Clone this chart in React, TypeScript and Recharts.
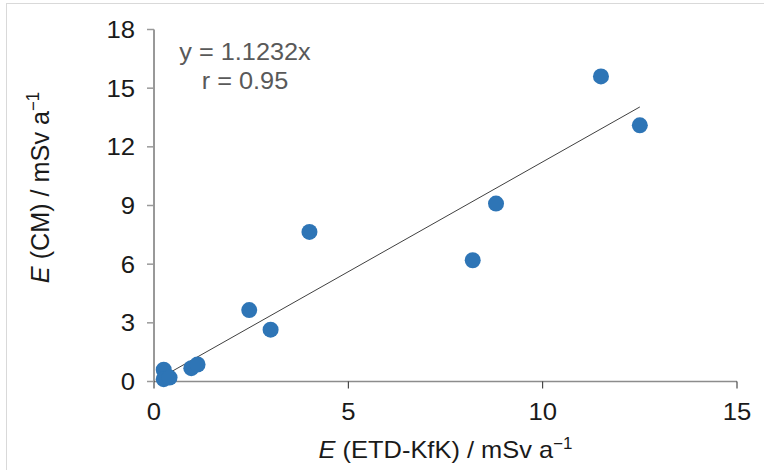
import React from 'react';
import { ScatterChart, Scatter, XAxis, YAxis, ReferenceLine, Label } from 'recharts';

// E (ETD-KfK) values, mSv/a
const etdKfk = [0.25, 0.25, 0.4, 0.96, 1.12, 2.45, 3.0, 4.0, 8.2, 8.8, 11.5, 12.5];
// E (CM) values, mSv/a
const cm = [0.6, 0.12, 0.2, 0.68, 0.87, 3.65, 2.65, 7.65, 6.2, 9.1, 15.6, 13.1];

const xTicks = [0, 5, 10, 15];
const yTicks = [0, 3, 6, 9, 12, 15, 18];

const slope = 1.1232;
const rValue = 0.95;
const fitStart = 0.24;
const fitEnd = 12.5;

const points = etdKfk.map((x, i) => ({ x, y: cm[i] }));

const FONT = '"Liberation Sans", Arial, sans-serif';
const SX = 1.07;
const FS = 24;

const YTick = (p: any) => (
  <text
    transform={`translate(${p.x},${p.y}) scale(${SX},1)`}
    textAnchor="end"
    dy={8.6}
    fontSize={FS}
    fontFamily={FONT}
    fill="#1a1a1a"
  >
    {p.payload.value}
  </text>
);

const XTick = (p: any) => (
  <text
    transform={`translate(${p.x},${p.y}) scale(${SX},1)`}
    textAnchor="middle"
    dy={31.5}
    fontSize={FS}
    fontFamily={FONT}
    fill="#1a1a1a"
  >
    {p.payload.value}
  </text>
);

const XTitle = (props: any) => {
  const vb = props.viewBox || { x: 154, y: 381.5, width: 583 };
  const cx = vb.x + vb.width / 2;
  const by = vb.y + 76;
  return (
    <text
      transform={`translate(${cx},${by}) scale(1.06,1)`}
      textAnchor="middle"
      fontSize={FS}
      fontFamily={FONT}
      fill="#1a1a1a"
    >
      <tspan fontStyle="italic">E</tspan> (ETD-KfK) / mSv a
      <tspan fontSize={16} dy={-9}>−1</tspan>
    </text>
  );
};

const YTitle = () => (
  <text
    transform={`translate(49,187.5) rotate(-90) scale(1.05,1.1)`}
    textAnchor="middle"
    fontSize={FS}
    fontFamily={FONT}
    fill="#1a1a1a"
  >
    <tspan fontStyle="italic">E</tspan> (CM) / mSv a
    <tspan fontSize={16} dy={-9}>−1</tspan>
  </text>
);

export default function App() {
  return (
    <div style={{ position: 'fixed', left: 0, top: 0, width: 764, height: 470, background: '#fff', overflow: 'hidden' }}>
      <div
        style={{
          position: 'absolute',
          left: 6,
          top: 3,
          width: 800,
          height: 500,
          borderTop: '1px solid #d9d9d9',
          borderLeft: '1px solid #d9d9d9',
        }}
      />
      <div style={{ position: 'absolute', left: 0, top: 0 }}>
        <ScatterChart width={764} height={470} margin={{ top: 29.5, right: 27, bottom: 58.5, left: 0 }}>
          <XAxis
            type="number"
            dataKey="x"
            domain={[0, 15]}
            ticks={xTicks}
            height={30}
            tickSize={7}
            tickMargin={0}
            axisLine={{ stroke: '#8c8c8c', strokeWidth: 1.5 }}
            tickLine={{ stroke: '#262626', strokeWidth: 1 }}
            tick={<XTick />}
            allowDecimals={false}
          >
            <Label content={<XTitle />} />
          </XAxis>
          <YAxis
            type="number"
            dataKey="y"
            domain={[0, 18]}
            ticks={yTicks}
            width={154}
            tickSize={7}
            tickMargin={12}
            axisLine={{ stroke: '#333333', strokeWidth: 1 }}
            tickLine={{ stroke: '#999999', strokeWidth: 1.5 }}
            tick={<YTick />}
          >
            <Label content={<YTitle />} />
          </YAxis>
          <ReferenceLine
            segment={[
              { x: fitStart, y: fitStart * slope },
              { x: fitEnd, y: fitEnd * slope },
            ]}
            stroke="#404040"
            strokeWidth={1}
            ifOverflow="visible"
          />
          <Scatter
            data={points}
            isAnimationActive={false}
            shape={(p: any) => <circle cx={p.cx} cy={p.cy} r={8} fill="#2E75B6" />}
          />
        </ScatterChart>
      </div>
      <svg width={764} height={470} style={{ position: 'absolute', left: 0, top: 0, pointerEvents: 'none' }}>
        <text
          transform={`translate(245,60) scale(1.1,1)`}
          textAnchor="middle"
          fontSize={23}
          fontFamily={FONT}
          fill="#595959"
        >
          {`y = ${slope}x`}
        </text>
        <text
          transform={`translate(245,89) scale(1.1,1)`}
          textAnchor="middle"
          fontSize={23}
          fontFamily={FONT}
          fill="#595959"
        >
          {`r = ${rValue}`}
        </text>
      </svg>
    </div>
  );
}
